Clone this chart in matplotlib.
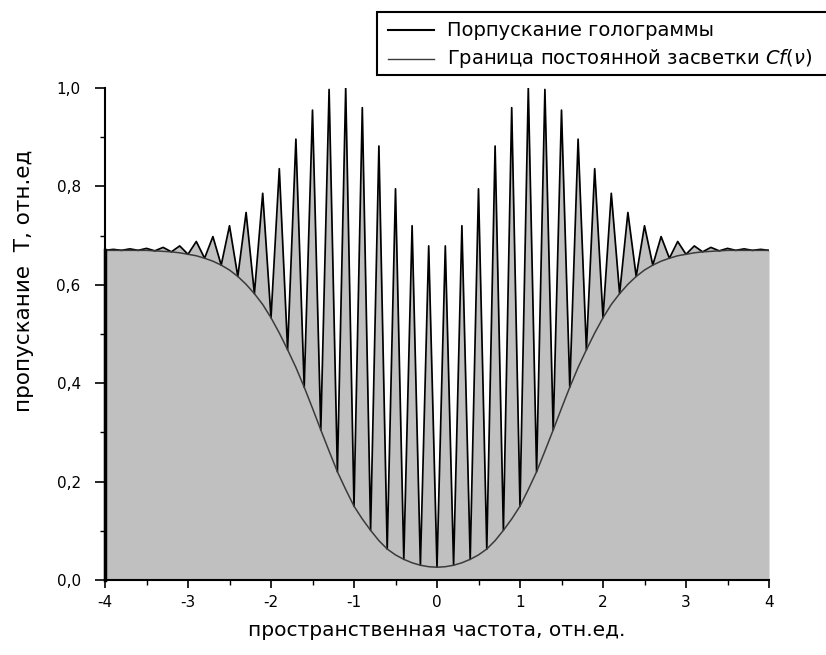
import matplotlib
matplotlib.use('Agg')
import matplotlib.pyplot as plt
from matplotlib.ticker import MultipleLocator, FuncFormatter
from matplotlib.patches import Rectangle
from matplotlib.lines import Line2D

plt.rcParams['font.family'] = ['DejaVu Sans']
plt.rcParams['axes.unicode_minus'] = False
plt.rcParams['mathtext.fontset'] = 'custom'
plt.rcParams['mathtext.it'] = 'DejaVu Sans:italic'
plt.rcParams['mathtext.rm'] = 'DejaVu Sans'

# spatial frequency grid (rel. units)
freq = [-4.0, -3.9, -3.8, -3.7, -3.6, -3.5, -3.4, -3.3, -3.2, -3.1,
        -3.0, -2.9, -2.8, -2.7, -2.6, -2.5, -2.4, -2.3, -2.2, -2.1,
        -2.0, -1.9, -1.8, -1.7, -1.6, -1.5, -1.4, -1.3, -1.2, -1.1,
        -1.0, -0.9, -0.8, -0.7, -0.6, -0.5, -0.4, -0.3, -0.2, -0.1,
        0.0, 0.1, 0.2, 0.3, 0.4, 0.5, 0.6, 0.7, 0.8, 0.9,
        1.0, 1.1, 1.2, 1.3, 1.4, 1.5, 1.6, 1.7, 1.8, 1.9,
        2.0, 2.1, 2.2, 2.3, 2.4, 2.5, 2.6, 2.7, 2.8, 2.9,
        3.0, 3.1, 3.2, 3.3, 3.4, 3.5, 3.6, 3.7, 3.8, 3.9, 4.0]

# constant-exposure boundary Cf(v)
cf = [0.670, 0.670, 0.670, 0.670, 0.670, 0.670, 0.669, 0.668, 0.667, 0.665,
      0.662, 0.659, 0.654, 0.648, 0.640, 0.630, 0.617, 0.601, 0.582, 0.560,
      0.533, 0.502, 0.468, 0.432, 0.392, 0.349, 0.305, 0.262, 0.220, 0.184,
      0.150, 0.124, 0.101, 0.080, 0.063, 0.051, 0.042, 0.035, 0.030, 0.027,
      0.026, 0.027, 0.030, 0.035, 0.042, 0.051, 0.063, 0.080, 0.101, 0.124,
      0.150, 0.184, 0.220, 0.262, 0.305, 0.349, 0.392, 0.432, 0.468, 0.502,
      0.533, 0.560, 0.582, 0.601, 0.617, 0.630, 0.640, 0.648, 0.654, 0.659,
      0.662, 0.665, 0.667, 0.668, 0.669, 0.670, 0.670, 0.670, 0.670, 0.670, 0.670]

# hologram transmission maxima at -3.9, -3.7, ..., 3.9
peaks = [0.672, 0.673, 0.674, 0.676, 0.679, 0.688, 0.698, 0.720, 0.747, 0.786,
         0.836, 0.896, 0.955, 0.997, 1.000, 0.960, 0.882, 0.795, 0.720, 0.679,
         0.679, 0.720, 0.795, 0.882, 0.960, 1.000, 0.997, 0.955, 0.896, 0.836,
         0.786, 0.747, 0.720, 0.698, 0.688, 0.679, 0.676, 0.674, 0.673, 0.672]

xticks = [-4, -3, -2, -1, 0, 1, 2, 3, 4]
yticks = [0.0, 0.2, 0.4, 0.6, 0.8, 1.0]

legend_labels = ['Порпускание голограммы',
                 'Граница постоянной засветки $Cf(\\nu)$']
xlabel = 'пространственная частота, отн.ед.'
ylabel = 'пропускание  Т, отн.ед'

# transmission: minima touch Cf, maxima from peaks
trans = []
k = 0
for i in range(len(freq)):
    if i % 2 == 0:
        trans.append(cf[i])
    else:
        trans.append(peaks[k])
        k += 1

W, H = 826, 655
fig = plt.figure(figsize=(W / 100, H / 100), dpi=100)
fig.patch.set_facecolor('white')

x0, x1, yb, yt = 105, 769, 580, 88
ax = fig.add_axes([x0 / W, 1 - yb / H, (x1 - x0) / W, (yb - yt) / H])
ax.set_facecolor('white')

ax.fill_between(freq, 0, trans, color='#c0c0c0', lw=0, zorder=1)
ax.plot(freq, trans, color='black', lw=1.25, zorder=3)
ax.plot(freq, cf, color='#3a3a3a', lw=1.1, zorder=4)
# dark edge of the filled area at the left boundary
ax.plot([freq[0], freq[0]], [0, trans[0]], color='black', lw=2.5, zorder=5,
        clip_on=False)

ax.set_xlim(-4, 4)
ax.set_ylim(0, 1.0)
ax.set_xticks(xticks)
ax.set_yticks(yticks)
ax.xaxis.set_minor_locator(MultipleLocator(0.5))
ax.yaxis.set_minor_locator(MultipleLocator(0.1))
ax.xaxis.set_major_formatter(FuncFormatter(lambda v, p: '%d' % round(v)))
ax.yaxis.set_major_formatter(FuncFormatter(lambda v, p: ('%.1f' % v).replace('.', ',')))

for s in ['top', 'right']:
    ax.spines[s].set_visible(False)
for s in ['left', 'bottom']:
    ax.spines[s].set_linewidth(1.5)
    ax.spines[s].set_zorder(5)

ax.tick_params(axis='x', which='major', direction='out', length=6, width=1.2,
               pad=4.5, labelsize=11)
ax.tick_params(axis='x', which='minor', direction='out', length=3.5, width=1.0)
ax.tick_params(axis='y', which='major', direction='out', length=7, width=1.2,
               pad=10.5, labelsize=11)
ax.tick_params(axis='y', which='minor', direction='out', length=3.5, width=1.0)

fig.text(437 / W, 1 - 630 / H, xlabel, ha='center', va='center', fontsize=14.5)
fig.text(24 / W, 1 - 281 / H, ylabel, ha='center', va='center', rotation=90,
         fontsize=15.5)

# legend box (runs off the right edge as in the original)
rect = Rectangle((377 / W, 1 - 75 / H), (850 - 377) / W, (75 - 12) / H,
                 transform=fig.transFigure, facecolor='white', edgecolor='black',
                 lw=1.5, clip_on=False)
fig.add_artist(rect)
fig.add_artist(Line2D([388 / W, 434 / W], [1 - 30 / H, 1 - 30 / H],
                      transform=fig.transFigure, color='black', lw=1.5))
fig.add_artist(Line2D([388 / W, 434 / W], [1 - 59 / H, 1 - 59 / H],
                      transform=fig.transFigure, color='#3a3a3a', lw=1.0))
fig.text(447 / W, 1 - 30 / H, legend_labels[0], ha='left', va='center', fontsize=14)
fig.text(447 / W, 1 - 59 / H, legend_labels[1], ha='left', va='center', fontsize=14)

fig.savefig('out.png', dpi=100)
